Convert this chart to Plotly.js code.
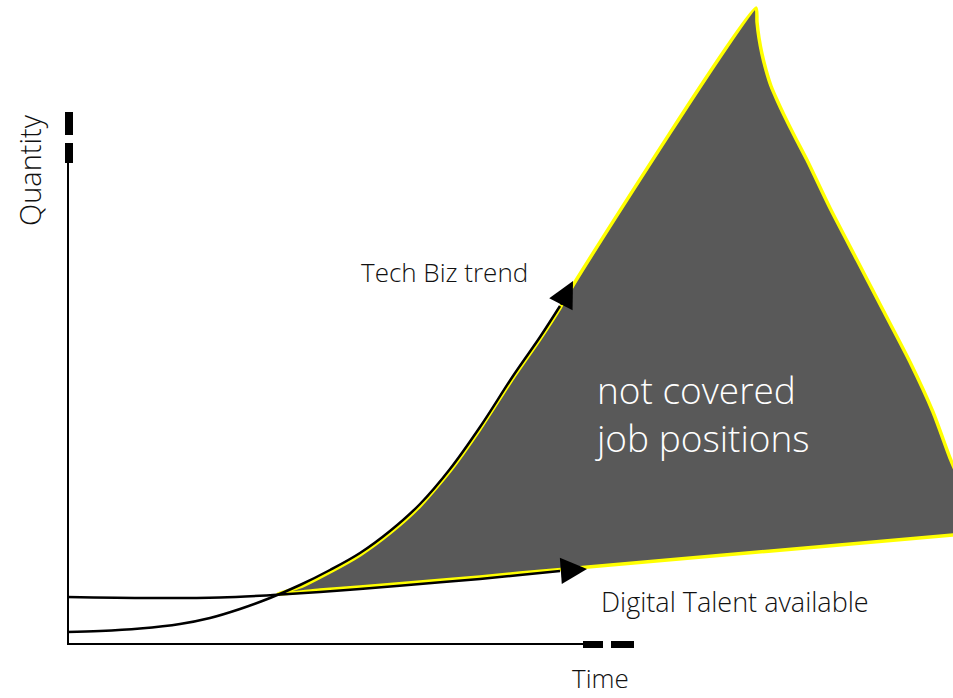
<!DOCTYPE html>
<html>
<head>
<meta charset="utf-8">
<script src="https://cdn.plot.ly/plotly-3.0.1.min.js"></script>
<style>
html, body { margin: 0; padding: 0; background: #fff; }
#chart { width: 953px; height: 698px; }
</style>
</head>
<body>
<div id="chart"></div>
<script>
// Digital talent available (time, quantity)
var talentTime = [0, 83, 153, 206, 253, 293, 353, 413, 453, 493];
var talentQty  = [47, 46, 46.5, 49, 52, 55, 60, 65, 69, 73];
var talentTip  = [520, 75];

// Tech business trend (time, quantity)
var techTime = [0, 33, 73, 113, 143, 173, 203, 233, 263, 293, 323, 353, 383, 413, 446, 473, 493];
var techQty  = [12, 13, 15.5, 20, 26, 35, 46, 59, 74, 91, 113, 140, 175, 217, 268, 307, 338];
var techTip  = [506, 363];

// outline of the gap: job positions not covered
var gapTime = [211, 233, 263, 293, 323, 353, 383, 413, 446, 473, 493, 508,
               689, 690, 692, 695, 699, 704, 710, 717, 728, 740, 763, 790, 816, 843, 866, 883, 898,
               898, 886, 521, 453, 413, 353, 293, 253, 211];
var gapQty  = [50, 57, 72, 89, 111, 138, 173, 215, 266, 305, 336, 362,
               636, 622, 606, 590, 574, 558, 544, 529, 507, 484, 436, 384, 334, 282, 232, 186, 149,
               110, 109, 77, 71, 67, 62, 57, 54, 50];

var labels = {
    quantity: 'Quantity',
    time: 'Time',
    tech: 'Tech Biz trend',
    talent: 'Digital Talent available',
    gap: 'not covered<br>job positions'
};

var FONT = '"Open Sans", Lato, sans-serif';

function arrow(tip, from) {
    return {
        x: tip[0], y: tip[1], ax: from[0], ay: from[1],
        xref: 'x', yref: 'y', axref: 'x', ayref: 'y',
        text: '', showarrow: true,
        arrowhead: 2, arrowsize: 2.1, arrowwidth: 2.5, arrowcolor: '#000'
    };
}

function label(text, x, y, size, color, anchor, angle, yanchor) {
    return {
        x: x, y: y, xref: 'x', yref: 'y', text: text, showarrow: false,
        xanchor: anchor, yanchor: yanchor || 'middle', align: 'left', textangle: angle || 0,
        font: { family: FONT, size: size, color: color, weight: 300 }
    };
}

var gapTrace = {
    x: gapTime, y: gapQty, type: 'scatter', mode: 'lines',
    fill: 'toself', fillcolor: '#595959',
    line: { color: '#ffff00', width: 3.5, shape: 'spline', smoothing: 0.6 }
};

var techTrace = {
    x: techTime, y: techQty, type: 'scatter', mode: 'lines',
    line: { color: '#000', width: 2.5, shape: 'spline', smoothing: 1 }
};

var talentTrace = {
    x: talentTime, y: talentQty, type: 'scatter', mode: 'lines',
    line: { color: '#000', width: 2.5, shape: 'spline', smoothing: 1 }
};

var n = techTime.length - 1;
var m = talentTime.length - 1;

var layout = {
    width: 953, height: 698,
    margin: { l: 0, r: 0, t: 0, b: 0 },
    paper_bgcolor: '#fff', plot_bgcolor: '#fff',
    showlegend: false,
    hovermode: false,
    xaxis: { range: [-67, 886], visible: false, fixedrange: true },
    yaxis: { range: [-54, 644], visible: false, fixedrange: true },
    shapes: [
        // axes
        { type: 'line', x0: 1, y0: 0, x1: 1, y1: 484, line: { color: '#000', width: 2 } },
        { type: 'line', x0: 0, y0: 0, x1: 518, y1: 0, line: { color: '#000', width: 2 } },
        // dashed axis ends
        { type: 'rect', x0: -2, x1: 6, y0: 481, y1: 501, fillcolor: '#000', line: { width: 0 } },
        { type: 'rect', x0: -2, x1: 6, y0: 509, y1: 532, fillcolor: '#000', line: { width: 0 } },
        { type: 'rect', x0: 516, x1: 536, y0: -4, y1: 3, fillcolor: '#000', line: { width: 0 } },
        { type: 'rect', x0: 544, x1: 567, y0: -4, y1: 3, fillcolor: '#000', line: { width: 0 } }
    ],
    annotations: [
        arrow(techTip, [techTime[n], techQty[n]]),
        arrow(talentTip, [talentTime[m], talentQty[m]]),
        label(labels.quantity, -38, 474, 29, '#111', 'center', -90),
        label(labels.time, 533, -53.5, 26, '#111', 'center', 0, 'bottom'),
        label(labels.tech, 292, 372, 26, '#111', 'left'),
        label(labels.talent, 532, 43, 27, '#111', 'left'),
        label(labels.gap, 526, 231, 37, '#fff', 'left')
    ]
};

Plotly.newPlot('chart', [gapTrace, techTrace, talentTrace], layout, { staticPlot: true });
</script>
</body>
</html>
